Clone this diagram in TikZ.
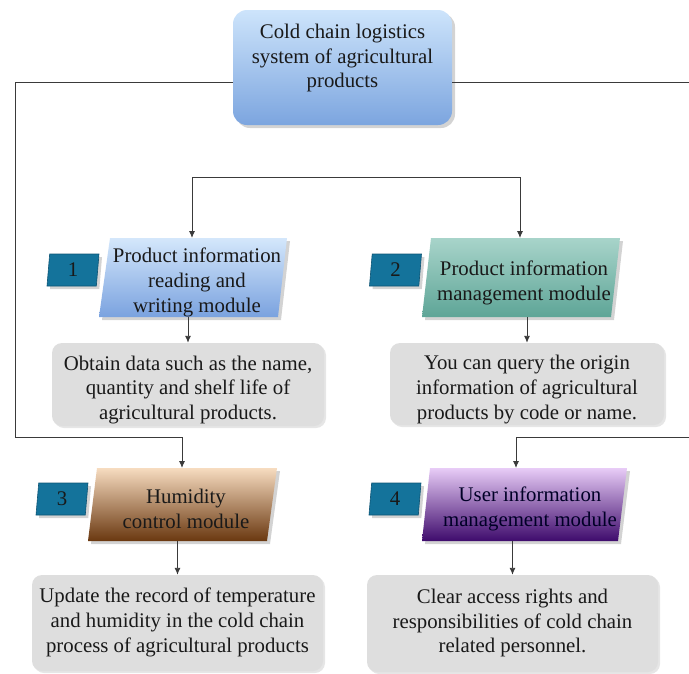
\documentclass[tikz,border=0pt]{standalone}
\usepackage{fontspec}
\setmainfont{Liberation Serif}
\newfontfamily\timesfam{Liberation Serif}
\usetikzlibrary{shapes.geometric,shadows,arrows.meta}
\definecolor{topA}{HTML}{CDE4FB}
\definecolor{topB}{HTML}{7CA5DF}
\definecolor{oneA}{HTML}{D4E7FB}
\definecolor{oneB}{HTML}{7AA2DF}
\definecolor{twoA}{HTML}{A8D4CA}
\definecolor{twoB}{HTML}{5EA597}
\definecolor{thrA}{HTML}{F7DCC0}
\definecolor{thrB}{HTML}{6A3810}
\definecolor{fouA}{HTML}{E8CCF7}
\definecolor{fouB}{HTML}{3E0B6C}
\definecolor{badgefill}{HTML}{14739B}
\definecolor{badgeline}{HTML}{0D5475}
\definecolor{descgray}{HTML}{DEDEDE}
\definecolor{linecol}{HTML}{3A3A3A}
\begin{document}
\begin{tikzpicture}[x=1pt,y=-1pt,
  txt/.style={font=\timesfam\fontsize{20.8}{24.9}\selectfont, align=center, text=black!90},
  shad/.style={drop shadow={shadow xshift=3pt, shadow yshift=-3pt, opacity=0.35}},
  topbox/.style={rounded corners=14pt, top color=topA, bottom color=topB, minimum width=219pt, minimum height=115pt, shad},
  modshape/.style={shad},
  descbox/.style={rounded corners=10pt, fill=descgray, inner sep=0pt, drop shadow={shadow xshift=2pt, shadow yshift=-2pt, opacity=0.2}},
  badgebox/.style={trapezium, trapezium left angle=79, trapezium right angle=101, trapezium stretches body, minimum width=52pt, minimum height=32pt, inner sep=0pt, fill=badgefill, draw=badgeline, line width=0.6pt, txt, shad},
  conn/.style={draw=linecol, line width=0.9pt},
  arr/.style={conn, -{Latex[length=7pt,width=6pt]}}
]
\useasboundingbox (0,0) rectangle (689,673);

% top box
\node[topbox, label={[txt, yshift=9.5pt]center:{Cold chain logistics\\system of agricultural\\products}}] (top) at (342.5,67.5) {};

% module shapes (parallelograms)
\path[modshape, top color=oneA, bottom color=oneB] (110,238) -- (287,238) -- (278,317) -- (99,317) -- cycle;
\path[modshape, top color=twoA, bottom color=twoB] (431,238) -- (620,238) -- (611,317) -- (422,317) -- cycle;
\path[modshape, top color=thrA, bottom color=thrB] (97,468) -- (277,468) -- (267,541) -- (88,541) -- cycle;
\path[modshape, top color=fouA, bottom color=fouB] (430,468) -- (627,468) -- (618,541) -- (422,541) -- cycle;

% module texts
\node[txt] (b1) at (197,282.5) {Product information\\reading and\\writing module};
\node[txt] (b2) at (524,282.5) {Product information\\management module};
\node[txt] (b3) at (186,508.5) {Humidity\\control module};
\node[txt, text=black!85!blue] (b4) at (530,508.5) {User information\\management module};

% badges
\node[badgebox] (n1) at (73,270) {1};
\node[badgebox] (n2) at (395.5,270) {2};
\node[badgebox] (n3) at (62,499) {3};
\node[badgebox] (n4) at (395,499) {4};

% description boxes
\node[descbox, minimum width=272pt, minimum height=83pt,
  label={[txt, yshift=-5.5pt]center:{Obtain data such as the name,\\quantity and shelf life of\\agricultural products.}}] (d1) at (188,384.5) {};
\node[descbox, minimum width=274pt, minimum height=82pt,
  label={[txt, yshift=-5.5pt]center:{You can query the origin\\information of agricultural\\products by code or name.}}] (d2) at (527,384) {};
\node[descbox, minimum width=291pt, minimum height=96pt,
  label={[txt, yshift=0.5pt]center:{Update the record of temperature\\and humidity in the cold chain\\process of agricultural products}}] (d3) at (177.5,623) {};
\node[descbox, minimum width=291pt, minimum height=97pt,
  label={[txt, yshift=0.5pt]center:{Clear access rights and\\responsibilities of cold chain\\related personnel.}}] (d4) at (512.5,623.5) {};

% connector coordinates
\coordinate (tl) at (233,82);
\coordinate (tr) at (452,82);
\coordinate (L) at (15,437);
\coordinate (R) at (693,437);
\coordinate (bL) at (192,177);
\coordinate (bR) at (520,177);
\coordinate (b1top) at (192,238);
\coordinate (b2top) at (520,238);
\coordinate (b3top) at (182,468);
\coordinate (b4top) at (516,468);
\coordinate (b1bot) at (188,317);
\coordinate (b2bot) at (527,317);
\coordinate (b3bot) at (177.5,541);
\coordinate (b4bot) at (512.5,541);

% connectors
\draw[arr] (tl) -| (L) -| (b3top);
\draw[arr] (tr) -| (R) -| (b4top);
\draw[conn] (bL) -- (bR);
\draw[arr] (bL) -- (b1top);
\draw[arr] (bR) -- (b2top);
\draw[arr] (b1bot) -- (d1.north);
\draw[arr] (b2bot) -- (d2.north);
\draw[arr] (b3bot) -- (d3.north);
\draw[arr] (b4bot) -- (d4.north);
\end{tikzpicture}
\end{document}
